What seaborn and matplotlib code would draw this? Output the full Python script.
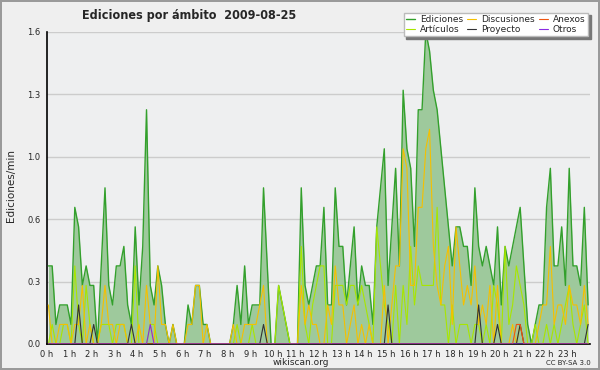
import numpy as np
import pandas as pd
import matplotlib
matplotlib.use("Agg")
import matplotlib.pyplot as plt
import seaborn as sns
from matplotlib.ticker import FixedLocator, MultipleLocator

# ediciones por minuto, bloques de 10 minutos (144 por dia)
ediciones = [
    0.4, 0.4, 0.1, 0.2, 0.2, 0.2, 0.1, 0.7, 0.6, 0.3, 0.4, 0.3, 0.3, 0.0, 0.4, 0.8, 0.3, 0.2, 0.4, 0.4, 0.5, 0.2, 0.1, 0.6,
    0.2, 0.5, 1.2, 0.3, 0.2, 0.4, 0.3, 0.1, 0.0, 0.1, 0.0, 0.0, 0.0, 0.2, 0.1, 0.3, 0.3, 0.1, 0.1, 0.0, 0.0, 0.0, 0.0, 0.0,
    0.0, 0.1, 0.3, 0.1, 0.4, 0.1, 0.2, 0.2, 0.2, 0.8, 0.4, 0.0, 0.0, 0.3, 0.2, 0.1, 0.0, 0.0, 0.0, 0.8, 0.3, 0.2, 0.3, 0.4,
    0.4, 0.7, 0.2, 0.2, 0.8, 0.5, 0.5, 0.2, 0.4, 0.6, 0.2, 0.4, 0.3, 0.3, 0.1, 0.6, 0.8, 1.0, 0.3, 0.6, 0.9, 0.4, 1.3, 1.0,
    0.9, 0.5, 1.2, 1.2, 1.6, 1.5, 1.3, 1.2, 1.0, 0.8, 0.6, 0.4, 0.6, 0.6, 0.5, 0.5, 0.3, 0.8, 0.5, 0.4, 0.5, 0.4, 0.3, 0.6,
    0.2, 0.5, 0.4, 0.5, 0.6, 0.7, 0.4, 0.1, 0.0, 0.1, 0.2, 0.2, 0.7, 0.9, 0.4, 0.4, 0.6, 0.3, 0.9, 0.4, 0.4, 0.3, 0.7, 0.2,
]
articulos = [
    0.0, 0.1, 0.0, 0.0, 0.1, 0.1, 0.0, 0.4, 0.1, 0.0, 0.3, 0.1, 0.0, 0.0, 0.1, 0.1, 0.1, 0.0, 0.1, 0.1, 0.1, 0.0, 0.0, 0.4,
    0.0, 0.0, 0.0, 0.1, 0.1, 0.0, 0.0, 0.0, 0.0, 0.0, 0.0, 0.0, 0.0, 0.0, 0.0, 0.0, 0.0, 0.0, 0.0, 0.0, 0.0, 0.0, 0.0, 0.0,
    0.0, 0.0, 0.1, 0.0, 0.0, 0.0, 0.1, 0.0, 0.0, 0.0, 0.0, 0.0, 0.0, 0.3, 0.2, 0.1, 0.0, 0.0, 0.0, 0.5, 0.1, 0.0, 0.2, 0.3,
    0.4, 0.4, 0.0, 0.0, 0.3, 0.3, 0.3, 0.2, 0.3, 0.3, 0.2, 0.3, 0.2, 0.1, 0.0, 0.6, 0.4, 0.2, 0.1, 0.0, 0.3, 0.0, 0.3, 0.1,
    0.5, 0.2, 0.4, 0.3, 0.3, 0.3, 0.3, 0.7, 0.2, 0.2, 0.0, 0.2, 0.0, 0.1, 0.1, 0.1, 0.0, 0.1, 0.1, 0.0, 0.1, 0.0, 0.3, 0.2,
    0.0, 0.5, 0.1, 0.2, 0.4, 0.3, 0.2, 0.0, 0.0, 0.1, 0.0, 0.0, 0.1, 0.0, 0.1, 0.0, 0.1, 0.2, 0.3, 0.1, 0.0, 0.1, 0.2, 0.0,
]
discusiones = [
    0.2, 0.0, 0.0, 0.1, 0.1, 0.1, 0.0, 0.1, 0.1, 0.3, 0.0, 0.1, 0.0, 0.0, 0.1, 0.3, 0.1, 0.1, 0.0, 0.1, 0.1, 0.0, 0.0, 0.0,
    0.1, 0.0, 0.3, 0.1, 0.0, 0.4, 0.1, 0.1, 0.0, 0.1, 0.0, 0.0, 0.0, 0.1, 0.1, 0.3, 0.3, 0.0, 0.1, 0.0, 0.0, 0.0, 0.0, 0.0,
    0.0, 0.1, 0.0, 0.0, 0.1, 0.1, 0.1, 0.1, 0.2, 0.3, 0.0, 0.0, 0.0, 0.0, 0.0, 0.0, 0.0, 0.0, 0.0, 0.3, 0.1, 0.2, 0.1, 0.1,
    0.0, 0.0, 0.2, 0.1, 0.4, 0.2, 0.2, 0.0, 0.1, 0.2, 0.0, 0.1, 0.0, 0.1, 0.0, 0.0, 0.0, 0.3, 0.0, 0.2, 0.4, 0.4, 1.0, 0.9,
    0.3, 0.3, 0.7, 0.7, 1.0, 1.1, 0.5, 0.3, 0.2, 0.4, 0.5, 0.1, 0.6, 0.4, 0.2, 0.3, 0.2, 0.4, 0.1, 0.2, 0.1, 0.3, 0.0, 0.3,
    0.0, 0.0, 0.0, 0.1, 0.0, 0.1, 0.0, 0.0, 0.0, 0.0, 0.1, 0.2, 0.2, 0.5, 0.1, 0.2, 0.2, 0.1, 0.3, 0.2, 0.2, 0.1, 0.3, 0.1,
]
# series casi vacias: (bloque, valor)
proyecto_picos = {8: 0.2, 12: 0.1, 22: 0.1, 57: 0.1, 90: 0.2, 114: 0.2, 119: 0.1, 125: 0.1, 143: 0.1}
anexos_picos = {124: 0.1, 125: 0.1}
otros_picos = {27: 0.1}

y_ticks = [0.0, 0.32, 0.64, 0.96, 1.28, 1.6]
y_labels = ["0.0", "0.3", "0.6", "1.0", "1.3", "1.6"]
hour_labels = [f"{h} h" for h in range(24)]

n = len(ediciones)
df = pd.DataFrame({
    "hora": (np.arange(n) + 0.5) / 6,
    "Ediciones": ediciones,
    "Artículos": articulos,
    "Discusiones": discusiones,
    "Proyecto": [proyecto_picos.get(i, 0.0) for i in range(n)],
    "Anexos": [anexos_picos.get(i, 0.0) for i in range(n)],
    "Otros": [otros_picos.get(i, 0.0) for i in range(n)],
})

colors = {
    "Ediciones": "#33a02c",
    "Artículos": "#a8e600",
    "Discusiones": "#f5c000",
    "Proyecto": "#333333",
    "Anexos": "#ee5511",
    "Otros": "#8a2be2",
}

sns.set_style("white")
plt.rcParams["font.family"] = ["DejaVu Sans"]

fig = plt.figure(figsize=(6, 3.7), dpi=100)
fig.patch.set_facecolor("#efefef")
fig.patch.set_edgecolor("#9a9a9a")
fig.patch.set_linewidth(1.5)
ax = fig.add_axes([0.0775, 0.0703, 0.9058, 0.8441])
ax.set_facecolor("#eeeff0")

ax.fill_between(df["hora"], 0, df["Ediciones"], color="#9ec99c", lw=0, zorder=1)
for name in ["Ediciones", "Artículos", "Discusiones", "Proyecto", "Anexos", "Otros"]:
    sns.lineplot(data=df, x="hora", y=name, ax=ax, color=colors[name],
                 linewidth=1.0 if name == "Ediciones" else 0.8, label=name, zorder=3)

ax.set_xlim(0, 24)
ax.set_ylim(0, 1.6)
ax.set_xticks(range(24))
ax.set_xticklabels(hour_labels)
ax.xaxis.set_minor_locator(MultipleLocator(1 / 6))
ax.yaxis.set_major_locator(FixedLocator(y_ticks))
ax.set_yticklabels(y_labels)
ax.yaxis.set_minor_locator(MultipleLocator(0.08))
ax.tick_params(axis="both", which="major", direction="out", length=3.5, width=1,
               labelsize=6, pad=0.8, color="black")
ax.tick_params(axis="both", which="minor", direction="out", length=2.5, width=0.8, color="black")
ax.grid(axis="y", color="#cccccc", linewidth=1)
ax.set_axisbelow(True)
for side in ["top", "right"]:
    ax.spines[side].set_visible(False)
for side in ["left", "bottom"]:
    ax.spines[side].set_color("black")
    ax.spines[side].set_linewidth(1.2)
ax.set_xlabel("")
ax.set_ylabel("")

handles, labels = ax.get_legend_handles_labels()
leg = ax.legend(handles, labels, ncol=3, loc="upper right",
                bbox_to_anchor=(0.98, 0.966), bbox_transform=fig.transFigure,
                borderaxespad=0, fontsize=6.5, frameon=True, fancybox=False,
                shadow={"color": "#777777", "alpha": 1}, labelspacing=0.05,
                handlelength=1.0, handletextpad=0.5, columnspacing=0.5, borderpad=0.3)
leg.get_frame().set_facecolor("white")
leg.get_frame().set_edgecolor("#bbbbbb")
leg.get_frame().set_linewidth(1)

fig.text(0.315, 0.957, "Ediciones por ámbito  2009-08-25", ha="center", va="center",
         fontsize=9, fontweight="bold", fontstretch="condensed")
fig.text(0.018, 0.5, "Ediciones/min", rotation=90, ha="center", va="center", fontsize=7.5)
fig.text(0.502, 0.019, "wikiscan.org", ha="center", va="center", fontsize=6.5)
fig.text(0.985, 0.019, "CC BY-SA 3.0", ha="right", va="center", fontsize=5)

fig.savefig("out.png", dpi=100)
